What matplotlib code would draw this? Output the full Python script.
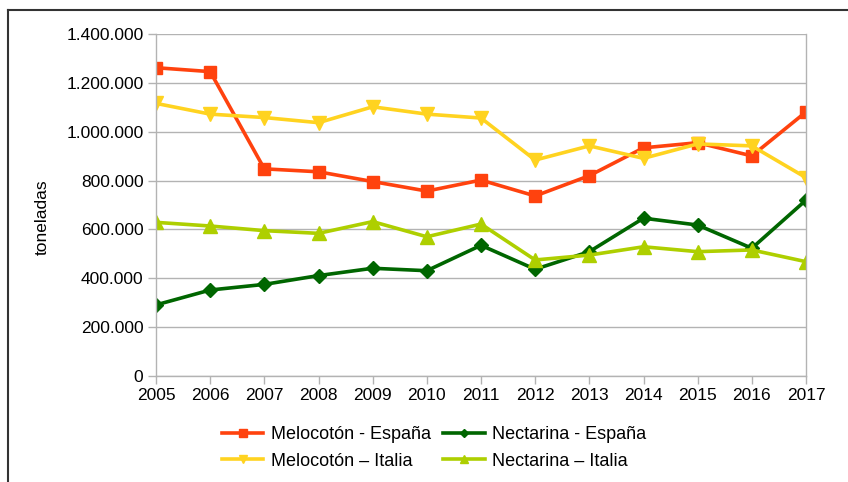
import numpy as np
import matplotlib
matplotlib.use('Agg')
import matplotlib.pyplot as plt
from matplotlib.ticker import FuncFormatter
from matplotlib.lines import Line2D

plt.rcParams['font.family'] = ['Liberation Sans', 'DejaVu Sans']

years = [2005, 2006, 2007, 2008, 2009, 2010, 2011, 2012, 2013, 2014, 2015, 2016, 2017]

# toneladas
meloc_es = [1262000, 1246000, 848000, 836000, 796000, 757000, 802000, 737000, 820000, 934000, 955000, 901000, 1081000]
nect_es = [291000, 352000, 375000, 411000, 441000, 431000, 535000, 437000, 509000, 646000, 618000, 523000, 720000]
meloc_it = [1116000, 1072000, 1058000, 1037000, 1102000, 1072000, 1056000, 884000, 942000, 891000, 950000, 942000, 812000]
nect_it = [629000, 614000, 595000, 584000, 632000, 570000, 622000, 475000, 495000, 529000, 509000, 516000, 468000]

# label, data, colour, marker, size
series = [
    ('Melocotón - España', meloc_es, '#ff420e', 's', 9),
    ('Melocotón – Italia', meloc_it, '#ffd320', 'v', 10),
    ('Nectarina - España', nect_es, '#006600', 'D', 7),
    ('Nectarina – Italia', nect_it, '#aecf00', '^', 10),
]
plot_order = [0, 2, 1, 3]

fig = plt.figure(figsize=(8.48, 4.82), dpi=100)
ax = fig.add_axes([156/848, 106/482, 650/848, 342/482])

x = np.arange(len(years))
handles = []
for i in plot_order:
    label, vals, col, mk, ms = series[i]
    ax.plot(x, vals, color=col, lw=2.6, marker=mk, markersize=ms)
for label, vals, col, mk, ms in series:
    handles.append(Line2D([], [], color=col, lw=2.6, marker=mk, markersize=ms * 0.6, label=label))

ax.set_xlim(0, len(years) - 1)
ax.set_ylim(0, 1400000)
ax.set_yticks(np.arange(0, 1400001, 200000))
ax.yaxis.set_major_formatter(FuncFormatter(lambda v, p: f'{int(v):,}'.replace(',', '.')))
ax.set_xticks(x)
ax.set_xticklabels([str(y) for y in years])

ax.grid(axis='y', color='#b3b3b3', lw=1)
ax.set_axisbelow(True)
ax.spines['top'].set_visible(False)
for s in ['left', 'right', 'bottom']:
    ax.spines[s].set_color('#b3b3b3')
    ax.spines[s].set_linewidth(1)
ax.tick_params(axis='both', colors='#b3b3b3', labelcolor='black', labelsize=12.5, length=6, width=1, pad=3)
ax.set_ylabel('toneladas', fontsize=12.5)
ax.yaxis.set_label_coords((50 - 156) / 650, (482 - 217 - 106) / 342)

fig.legend(handles=handles, loc='center', bbox_to_anchor=(434/848, 1 - 448/482), ncol=2,
           frameon=False, fontsize=13, handlelength=2.3, columnspacing=0.7, labelspacing=0.5,
           handletextpad=0.4, borderpad=0)

# outer frame
fig.add_artist(Line2D([8/848, 8/848], [0, 1 - 10/482], color='#333333', lw=1.5, transform=fig.transFigure))
fig.add_artist(Line2D([8/848, 1], [1 - 10/482, 1 - 10/482], color='#333333', lw=1.5, transform=fig.transFigure))

fig.savefig('out.png', dpi=100)
